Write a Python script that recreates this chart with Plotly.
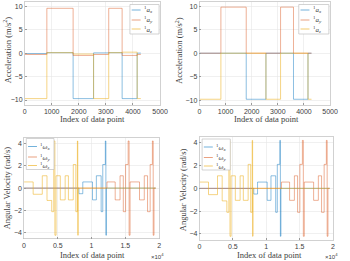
import plotly.graph_objects as go

W, H = 350, 261

# ---------------- data ----------------
# Accelerometer: segment edges (index of data point) and segment values (m/s^2)
acc_edges = [0, 820, 1790, 2545, 3105, 3600, 4155, 4290]
acc_raw_x = [-0.1, 0.1, -9.7, 0.05, 0.1, -9.7, 0.0]
acc_raw_y = [-0.3, 9.55, -0.5, -0.3, 9.55, -0.5, -0.3]
acc_raw_z = [-9.7, 0.1, -0.2, -9.7, 0.1, 0.2, -9.7]
acc_cal_x = [0.0, 0.0, -9.8, 0.0, 0.0, -9.8, 0.0]
acc_cal_y = [0.0, 9.8, 0.0, 0.0, 9.8, 0.0, 0.0]
acc_cal_z = [-9.8, 0.0, 0.0, -9.8, 0.0, 0.0, -9.8]

# Gyroscope: segment edges and values (rad/s)
wx_edges = [0, 8130, 8700, 10140, 10710, 11420, 11660, 12040, 12120, 12200, 19500]
wx_vals = [0.0, -0.5, 0.55, -1.05, 1.1, -2.1, 2.1, 4.2, -4.2, 0.0]
wy_edges = [0, 12280, 13500, 14220, 14700, 15040, 15420, 15560, 15700, 17100,
            17810, 18290, 18680, 19010, 19130, 19250, 19500]
wy_vals = [0.0, 0.55, -1.05, 1.1, -2.1, 2.1, 4.2, -4.2, 0.55, -1.05, 1.1,
           -2.1, 2.1, 4.2, -4.2, 0.0]
wz_edges = [0, 1350, 2700, 3400, 4100, 4400, 4570, 4740, 5370, 6090, 6570,
            7290, 7670, 7900, 7960, 8020, 19500]
wz_vals = [0.55, -0.55, 1.1, -1.1, -2.1, 4.2, -4.2, 1.1, -1.05, 1.1, -1.05,
           2.1, -2.1, 4.2, -4.2, 0.0]

acc_names = ["<sup>1</sup><i>a</i><sub><i>x</i></sub>",
             "<sup>1</sup><i>a</i><sub><i>y</i></sub>",
             "<sup>1</sup><i>a</i><sub><i>z</i></sub>"]
gyr_names = ["<sup>1</sup><i>ω</i><sub><i>x</i></sub>",
             "<sup>1</sup><i>ω</i><sub><i>y</i></sub>",
             "<sup>1</sup><i>ω</i><sub><i>z</i></sub>"]

acc_xticks = [0, 1000, 2000, 3000, 4000, 5000]
acc_yticks = [-10, -5, 0, 5, 10]
gyr_xticks = [0, 5000, 10000, 15000, 20000]
gyr_xticktext = ["0", "0.5", "1", "1.5", "2"]
gyr_yticks = [-4, -2, 0, 2, 4]

colors = ["rgba(0,114,189,0.45)", "rgba(217,83,25,0.45)", "rgba(237,177,32,0.55)"]
legend_colors = ["rgba(0,114,189,0.55)", "rgba(217,83,25,0.55)", "rgba(237,177,32,0.65)"]

# ---------------- figure ----------------
fig = go.Figure()

def px_x(p):
    return p / W

def px_y(p):
    return 1 - p / H

def add_step(edges, vals, color, xa, ya):
    fig.add_trace(go.Scatter(x=edges, y=vals + [vals[-1]], mode="lines",
                             line=dict(color=color, width=1, shape="hv"),
                             xaxis=xa, yaxis=ya, showlegend=False,
                             hoverinfo="skip"))

# top-left (raw acceleration)
for v, c in zip([acc_raw_x, acc_raw_y, acc_raw_z], colors):
    add_step(acc_edges, v, c, "x", "y")
# top-right (calibrated acceleration)
for v, c in zip([acc_cal_x, acc_cal_y, acc_cal_z], colors):
    add_step(acc_edges, v, c, "x2", "y2")
# bottom-left and bottom-right (angular velocity)
for xa, ya in [("x3", "y3"), ("x4", "y4")]:
    add_step(wx_edges, wx_vals, colors[0], xa, ya)
    add_step(wy_edges, wy_vals, colors[1], xa, ya)
    add_step(wz_edges, wz_vals, colors[2], xa, ya)

tickfont = dict(family="Liberation Sans, Arial, sans-serif", size=7, color="#404040")
labfont = dict(family="Liberation Serif, Times New Roman, serif", size=8.5, color="#404040")

def ax_common():
    return dict(showgrid=True, gridcolor="#e6e6e6", gridwidth=0.6,
                zeroline=False, showline=True, linecolor="#bdbdbd", linewidth=0.7,
                mirror=True, ticks="inside", ticklen=2, tickcolor="#9a9a9a",
                tickfont=tickfont)

doms = {
    "1": dict(x=[23.3, 162.7], y=[1.5, 104.7]),
    "2": dict(x=[203.3, 337.7], y=[1.5, 104.9]),
    "3": dict(x=[22.7, 161.7], y=[137.6, 238.6]),
    "4": dict(x=[203.3, 340.7], y=[137.0, 239.7]),
}

for k, d in doms.items():
    xd = [px_x(d["x"][0]), px_x(d["x"][1])]
    yd = [px_y(d["y"][1]), px_y(d["y"][0])]
    xname = "xaxis" if k == "1" else "xaxis" + k
    yname = "yaxis" if k == "1" else "yaxis" + k
    anchor_x = "y" if k == "1" else "y" + k
    anchor_y = "x" if k == "1" else "x" + k
    if k in ("1", "2"):
        xa = dict(domain=xd, anchor=anchor_x, range=[0, 5000], tickvals=acc_xticks, **ax_common())
        ya = dict(domain=yd, anchor=anchor_y, range=[-11, 11], tickvals=acc_yticks, **ax_common())
    else:
        xa = dict(domain=xd, anchor=anchor_x, range=[0, 20000], tickvals=gyr_xticks,
                  ticktext=gyr_xticktext, **ax_common())
        ya = dict(domain=yd, anchor=anchor_y, range=[-4.5, 4.5], tickvals=gyr_yticks, **ax_common())
    fig.layout[xname] = xa
    fig.layout[yname] = ya

annotations = []
shapes = []

def label(text, x, y, angle=0, font=labfont):
    annotations.append(dict(text=text, x=px_x(x), y=px_y(y), xref="paper", yref="paper",
                            showarrow=False, textangle=angle, font=font,
                            xanchor="center", yanchor="middle"))

label("Index of data point", 93, 118.5)
label("Index of data point", 272, 118.5)
label("Index of data point", 93, 255)
label("Index of data point", 275, 255)
label("Acceleration (m/s<sup>2</sup>)", 5.5, 50, angle=-90)
label("Acceleration (m/s<sup>2</sup>)", 182, 50, angle=-90)
label("Angular Velocity (rad/s)", 5.5, 188, angle=-90)
label("Angular Velocity (rad/s)", 186.5, 190, angle=-90)
small = dict(family="Liberation Sans, Arial, sans-serif", size=6, color="#404040")
label("×10<sup>4</sup>", 160, 256, font=small)
label("×10<sup>4</sup>", 339, 256, font=small)

legfont = dict(family="Liberation Serif, Times New Roman, serif", size=7, color="#404040")

def legend_box(x0, y0, w, h, names, rows):
    shapes.append(dict(type="rect", xref="paper", yref="paper",
                       x0=px_x(x0), x1=px_x(x0 + w), y0=px_y(y0 + h), y1=px_y(y0),
                       fillcolor="white", line=dict(color="#c0c0c0", width=0.7), layer="above"))
    for name, c, ry in zip(names, legend_colors, rows):
        shapes.append(dict(type="line", xref="paper", yref="paper",
                           x0=px_x(x0 + 1.8), x1=px_x(x0 + 11), y0=px_y(ry), y1=px_y(ry),
                           line=dict(color=c, width=1), layer="above"))
        annotations.append(dict(text=name, x=px_x(x0 + 12.5), y=px_y(ry), xref="paper",
                                yref="paper", showarrow=False, font=legfont,
                                xanchor="left", yanchor="middle"))

legend_box(131.7, 4.5, 30, 29.5, acc_names, [10, 20, 29])
legend_box(305.5, 4.5, 31, 29.5, acc_names, [10, 20, 29])
legend_box(25, 138.5, 28.5, 31, gyr_names, [146.5, 157, 165.5])
legend_box(206, 139, 29, 31, gyr_names, [147, 157.5, 166])

fig.update_layout(width=W, height=H, margin=dict(l=0, r=0, t=0, b=0),
                  paper_bgcolor="white", plot_bgcolor="white",
                  annotations=annotations, shapes=shapes, showlegend=False)

fig.write_html("out.html", config={"displayModeBar": False, "staticPlot": True},
               post_script="document.body.style.margin='0';document.body.style.overflow='hidden';")
